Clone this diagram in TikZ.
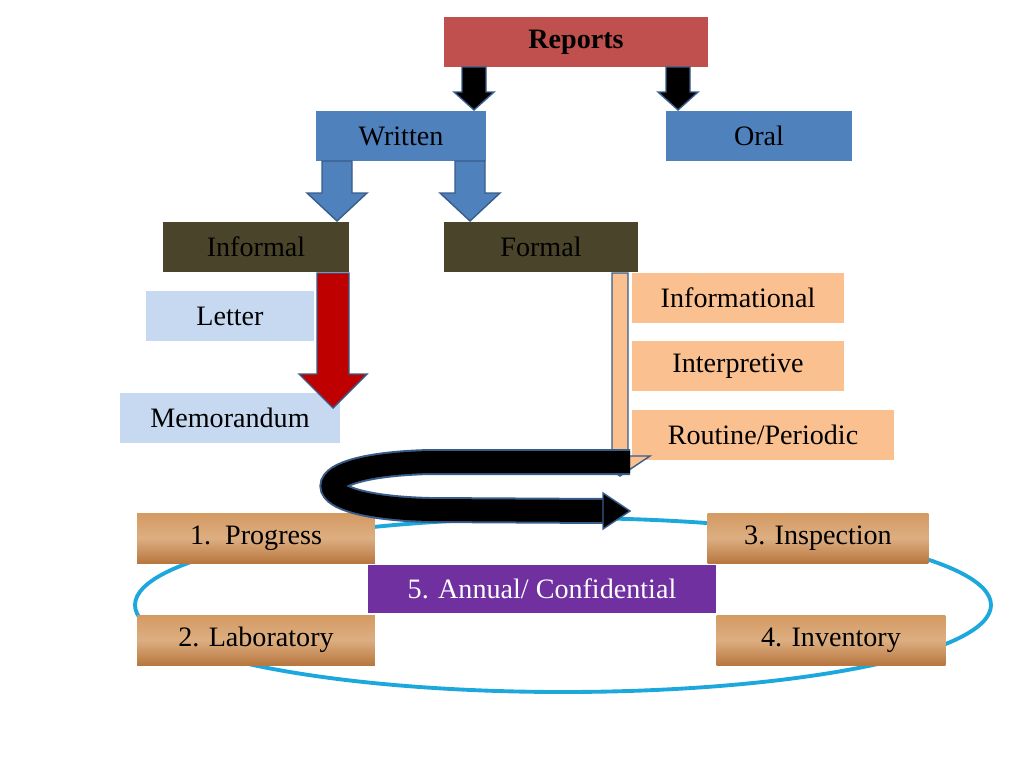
\documentclass[tikz,border=0pt]{standalone}
\usepackage{fontspec}
\setmainfont{Liberation Serif}
\usetikzlibrary{positioning,calc}
\definecolor{repred}{HTML}{C0504D}
\definecolor{repblue}{HTML}{4F81BD}
\definecolor{olive}{HTML}{4A452A}
\definecolor{paleblue}{HTML}{C6D9F1}
\definecolor{peach}{HTML}{FAC090}
\definecolor{woodA}{HTML}{D49A62}
\definecolor{woodB}{HTML}{B8773F}
\definecolor{violet}{HTML}{7030A0}
\definecolor{ring}{HTML}{1CA8DD}
\definecolor{edge}{HTML}{385D8A}
\tikzset{
  box/.style={minimum height=1cm,inner sep=0pt,font=\fontsize{16}{18}\selectfont},
  wood/.style={box,top color=woodA,bottom color=woodB,middle color=woodA!80!white},
}
% block arrow: x, top y, bottom y, half shaft, half head, head length, colour
\newcommand{\blockarrow}[7]{%
  \filldraw[fill=#7,draw=edge,thick] (#1-#4,#2) -- (#1+#4,#2) -- (#1+#4,#3+#6)
    -- (#1+#5,#3+#6) -- (#1,#3) -- (#1-#5,#3+#6) -- (#1-#4,#3+#6) -- cycle;}
\begin{document}
\begin{tikzpicture}[x=0.02cm,y=-0.02cm]
\useasboundingbox (0,0) rectangle (1024,768);
\node[box,fill=repred,minimum width=5.28cm,font=\fontsize{16}{18}\selectfont\bfseries] (reports) at (576,42) {Reports};
\node[box,fill=repblue,minimum width=3.4cm] (written) at (401,136) {Written};
\node[box,fill=repblue,minimum width=3.72cm] (oral) at (759,136) {Oral};
\node[box,fill=olive,minimum width=3.72cm] (informal) at (256,247) {Informal};
\node[box,fill=olive,minimum width=3.88cm] (formal) at (541,247) {Formal};
\node[box,fill=paleblue,minimum width=3.36cm] (letter) at (230,316) {Letter};
\node[box,fill=paleblue,minimum width=4.4cm] (memo) at (230,418) {Memorandum};
\node[box,fill=peach,minimum width=4.24cm] (info) at (738,298) {Informational};
\node[box,fill=peach,minimum width=4.24cm] (interp) at (738,366) {Interpretive};
\node[box,fill=peach,minimum width=5.24cm] (routine) at (763,435) {Routine/Periodic};
% ring of report kinds
\draw[ring,line width=2.2pt] (563,605) ellipse[x radius=428,y radius=87];
\node[wood,minimum width=4.76cm] (progress) at (256,538) {1.\ \ Progress};
\node[wood,minimum width=4.42cm] (inspect) at (818,538) {3. Inspection};
\node[wood,minimum width=4.76cm] (lab) at (256,640) {2. Laboratory};
\node[wood,minimum width=4.58cm] (invent) at (831,640) {4. Inventory};
\node[box,fill=violet,text=white,minimum width=6.96cm,minimum height=0.96cm] (annual) at (542,589) {5. Annual/ Confidential};
% arrows
\blockarrow{474}{67}{110}{12}{20}{-18}{black}
\blockarrow{678}{67}{110}{12}{20}{-18}{black}
\blockarrow{337}{161}{221}{15}{30}{-28}{repblue}
\blockarrow{470}{161}{221}{15}{30}{-28}{repblue}
\blockarrow{333}{273}{408}{16}{34}{-34}{red!75!black}
\blockarrow{620}{273}{476}{8}{30}{-20}{peach}
\coordinate (loopA) at (630,462);
\coordinate (loopB) at (605,511);
\draw[edge,line width=0.52cm] (loopA) -- (430,462) .. controls (300,465) and (300,507) .. (430,510) -- (loopB);
\draw[black,line width=0.44cm] (loopA) -- (430,462) .. controls (300,465) and (300,507) .. (430,510) -- (loopB);
\filldraw[fill=black,draw=edge,thick] (603,493) -- (630,511) -- (603,529) -- cycle;
\end{tikzpicture}
\end{document}
